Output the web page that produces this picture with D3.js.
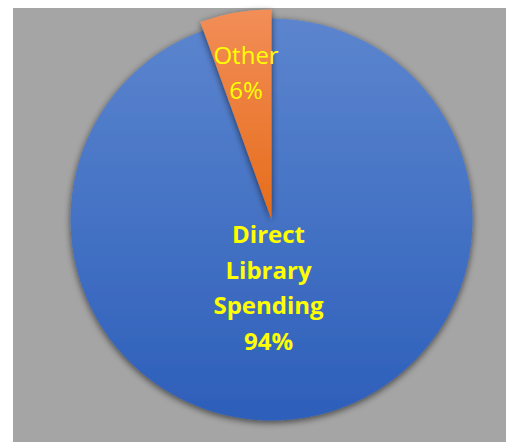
<!DOCTYPE html>
<html>
<head>
<meta charset="utf-8">
<script src="https://cdn.jsdelivr.net/npm/d3@7"></script>
<style>
    html, body { margin: 0; padding: 0; background: #ffffff; }
    svg { display: block; }
    .slice-label { font-family: "Open Sans", "Noto Sans", sans-serif; fill: #ffff00; }
</style>
</head>
<body>
<div id="pie"></div>
<script>
const categories = ["Direct Library Spending", "Other"];
const values = [94.5, 5.5];
const percentLabels = ["94%", "6%"];

const width = 506;
const height = 442;
const cx = 271.5;
const cy = 219.5;
const radius = 201;

const sliceStyles = [
    { top: "#5c85ce", bottom: "#2d5fba", outer: radius, weight: "bold", labelR: 70, dx: -15 },
    { top: "#f28e58", bottom: "#e66c1a", outer: 210, weight: "normal", labelR: 148, dx: 0 }
];

const svg = d3.select("#pie")
    .append("svg")
    .attr("width", width)
    .attr("height", height);

const defs = svg.append("defs");

const shadow = defs.append("filter")
    .attr("id", "shadow")
    .attr("x", "-20%").attr("y", "-20%")
    .attr("width", "140%").attr("height", "140%");
shadow.append("feGaussianBlur").attr("in", "SourceAlpha").attr("stdDeviation", 3.5);
shadow.append("feOffset").attr("dx", 0).attr("dy", 2).attr("result", "blur");
shadow.append("feComponentTransfer").append("feFuncA").attr("type", "linear").attr("slope", 0.6);
const merge = shadow.append("feMerge");
merge.append("feMergeNode");
merge.append("feMergeNode").attr("in", "SourceGraphic");

sliceStyles.forEach((s, i) => {
    const g = defs.append("linearGradient")
        .attr("id", `grad-${i}`)
        .attr("x1", 0).attr("y1", 0).attr("x2", 0).attr("y2", 1);
    g.append("stop").attr("offset", "0%").attr("stop-color", s.top);
    g.append("stop").attr("offset", "100%").attr("stop-color", s.bottom);
});

svg.append("rect")
    .attr("x", 13)
    .attr("y", 8)
    .attr("width", width - 13)
    .attr("height", height - 8)
    .attr("fill", "#a5a5a5");

const pie = d3.pie().sort(null).value(d => d);
const arcs = pie(values);

const chart = svg.append("g")
    .attr("transform", `translate(${cx}, ${cy})`);

chart.selectAll("path.slice")
    .data(arcs)
    .join("path")
    .attr("class", "slice")
    .attr("d", (d, i) => d3.arc().innerRadius(0).outerRadius(sliceStyles[i].outer)(d))
    .attr("fill", (d, i) => `url(#grad-${i})`)
    .attr("filter", "url(#shadow)");

const labels = chart.selectAll("text.slice-label")
    .data(arcs)
    .join("text")
    .attr("class", "slice-label")
    .attr("text-anchor", "middle")
    .attr("font-size", 24)
    .attr("font-weight", (d, i) => sliceStyles[i].weight)
    .attr("transform", (d, i) => {
        const r = sliceStyles[i].labelR;
        const [x, y] = d3.arc().innerRadius(r).outerRadius(r).centroid(d);
        return `translate(${x + sliceStyles[i].dx}, ${y})`;
    });

labels.each(function (d, i) {
    const lines = (i === 0 ? ["Direct", "Library", "Spending"] : [categories[i]]).concat(percentLabels[i]);
    const lineH = 35.5;
    const startY = -((lines.length - 1) * lineH) / 2 + 8;
    d3.select(this)
        .selectAll("tspan")
        .data(lines)
        .join("tspan")
        .attr("x", 0)
        .attr("y", (l, j) => startY + j * lineH)
        .text(l => l);
});
</script>
</body>
</html>
